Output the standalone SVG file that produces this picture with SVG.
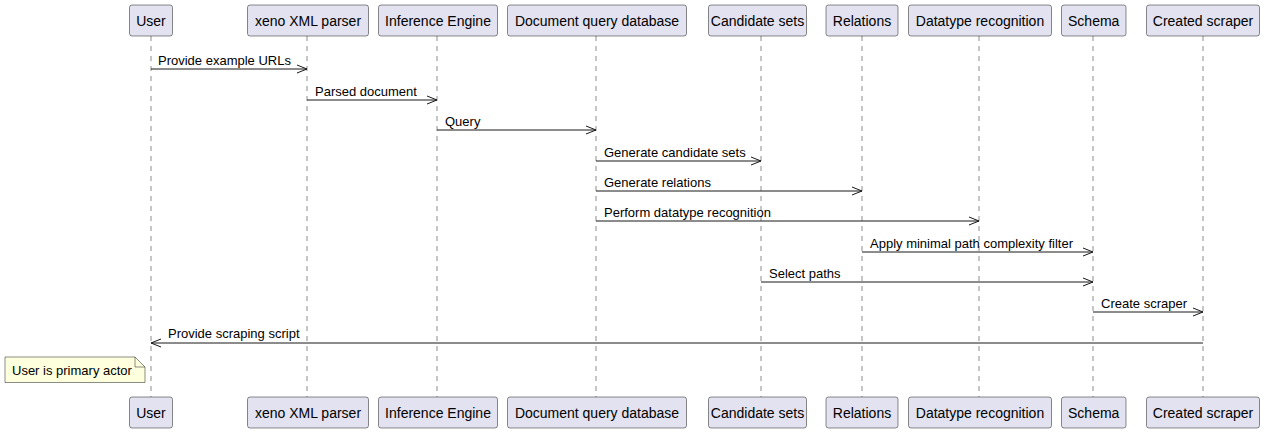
<svg xmlns="http://www.w3.org/2000/svg" width="1265" height="433" viewBox="0 0 1265 433">
<defs>
<style>
.p{fill:#E2E2F0;stroke:#181818;stroke-width:0.5}
.pt{font-family:"Liberation Sans",Arial,sans-serif;font-size:14px;fill:#000;text-anchor:middle}
.ll{stroke:#181818;stroke-width:0.5;stroke-dasharray:5,5;fill:none}
.m{stroke:#181818;stroke-width:1;fill:none}
.mt{font-family:"Liberation Sans",Arial,sans-serif;font-size:13px;fill:#000}
</style>
<marker id="ah" viewBox="0 0 12 10" refX="11" refY="5" markerWidth="12" markerHeight="10" markerUnits="userSpaceOnUse" orient="auto-start-reverse">
<path d="M1,1 L11,5 L1,9" fill="none" stroke="#181818" stroke-width="1"/>
</marker>
</defs>
<rect width="1265" height="433" fill="#FFFFFF"/>
<g id="lifelines">
<line class="ll" x1="151" y1="36" x2="151" y2="397"/>
<line class="ll" x1="307" y1="36" x2="307" y2="397"/>
<line class="ll" x1="437" y1="36" x2="437" y2="397"/>
<line class="ll" x1="596" y1="36" x2="596" y2="397"/>
<line class="ll" x1="761" y1="36" x2="761" y2="397"/>
<line class="ll" x1="862" y1="36" x2="862" y2="397"/>
<line class="ll" x1="979" y1="36" x2="979" y2="397"/>
<line class="ll" x1="1093" y1="36" x2="1093" y2="397"/>
<line class="ll" x1="1203" y1="36" x2="1203" y2="397"/>
</g>
<g id="user">
<rect class="p" x="129.5" y="5" width="43" height="31" rx="2.5"/><text class="pt" x="151" y="25.5">User</text>
<rect class="p" x="129.5" y="397" width="43" height="31" rx="2.5"/><text class="pt" x="151" y="417.5">User</text>
</g>
<g id="xeno">
<rect class="p" x="247.5" y="5" width="121" height="31" rx="2.5"/><text class="pt" x="308" y="25.5">xeno XML parser</text>
<rect class="p" x="247.5" y="397" width="121" height="31" rx="2.5"/><text class="pt" x="308" y="417.5">xeno XML parser</text>
</g>
<g id="inference">
<rect class="p" x="378.5" y="5" width="119" height="31" rx="2.5"/><text class="pt" x="438" y="25.5">Inference Engine</text>
<rect class="p" x="378.5" y="397" width="119" height="31" rx="2.5"/><text class="pt" x="438" y="417.5">Inference Engine</text>
</g>
<g id="docdb">
<rect class="p" x="507.5" y="5" width="179" height="31" rx="2.5"/><text class="pt" x="597" y="25.5">Document query database</text>
<rect class="p" x="507.5" y="397" width="179" height="31" rx="2.5"/><text class="pt" x="597" y="417.5">Document query database</text>
</g>
<g id="candidate">
<rect class="p" x="708.5" y="5" width="98" height="31" rx="2.5"/><text class="pt" x="757.5" y="25.5">Candidate sets</text>
<rect class="p" x="708.5" y="397" width="98" height="31" rx="2.5"/><text class="pt" x="757.5" y="417.5">Candidate sets</text>
</g>
<g id="relations">
<rect class="p" x="826" y="5" width="72" height="31" rx="2.5"/><text class="pt" x="862" y="25.5">Relations</text>
<rect class="p" x="826" y="397" width="72" height="31" rx="2.5"/><text class="pt" x="862" y="417.5">Relations</text>
</g>
<g id="datatype">
<rect class="p" x="908.5" y="5" width="143" height="31" rx="2.5"/><text class="pt" x="980" y="25.5">Datatype recognition</text>
<rect class="p" x="908.5" y="397" width="143" height="31" rx="2.5"/><text class="pt" x="980" y="417.5">Datatype recognition</text>
</g>
<g id="schema">
<rect class="p" x="1061.5" y="5" width="64.5" height="31" rx="2.5"/><text class="pt" x="1093.7" y="25.5">Schema</text>
<rect class="p" x="1061.5" y="397" width="64.5" height="31" rx="2.5"/><text class="pt" x="1093.7" y="417.5">Schema</text>
</g>
<g id="scraper">
<rect class="p" x="1146.5" y="5" width="113" height="31" rx="2.5"/><text class="pt" x="1203" y="25.5">Created scraper</text>
<rect class="p" x="1146.5" y="397" width="113" height="31" rx="2.5"/><text class="pt" x="1203" y="417.5">Created scraper</text>
</g>
<g id="connectors">
<line class="m" x1="151" y1="69" x2="307" y2="69" marker-end="url(#ah)"/><text class="mt" x="158" y="65">Provide example URLs</text>
<line class="m" x1="307" y1="100" x2="437" y2="100" marker-end="url(#ah)"/><text class="mt" x="315" y="96">Parsed document</text>
<line class="m" x1="437" y1="130" x2="596" y2="130" marker-end="url(#ah)"/><text class="mt" x="445" y="126">Query</text>
<line class="m" x1="596" y1="161" x2="761" y2="161" marker-end="url(#ah)"/><text class="mt" x="604" y="157">Generate candidate sets</text>
<line class="m" x1="596" y1="191" x2="862" y2="191" marker-end="url(#ah)"/><text class="mt" x="604" y="187">Generate relations</text>
<line class="m" x1="596" y1="221" x2="979" y2="221" marker-end="url(#ah)"/><text class="mt" x="604" y="217">Perform datatype recognition</text>
<line class="m" x1="862" y1="252" x2="1093" y2="252" marker-end="url(#ah)"/><text class="mt" x="870" y="248">Apply minimal path complexity filter</text>
<line class="m" x1="761" y1="282" x2="1093" y2="282" marker-end="url(#ah)"/><text class="mt" x="769" y="278">Select paths</text>
<line class="m" x1="1093" y1="312" x2="1203" y2="312" marker-end="url(#ah)"/><text class="mt" x="1101" y="308">Create scraper</text>
<line class="m" x1="1203" y1="343" x2="151" y2="343" marker-end="url(#ah)"/><text class="mt" x="168" y="338">Provide scraping script</text>
</g>
<g id="note">
<path d="M5,357 L135,357 L145,367 L145,382.5 L5,382.5 Z" fill="#FEFFDD" stroke="#181818" stroke-width="0.5"/>
<path d="M135,357 L135,367 L145,367" fill="none" stroke="#181818" stroke-width="0.5"/>
<text class="mt" x="12" y="375">User is primary actor</text>
</g>
</svg>
